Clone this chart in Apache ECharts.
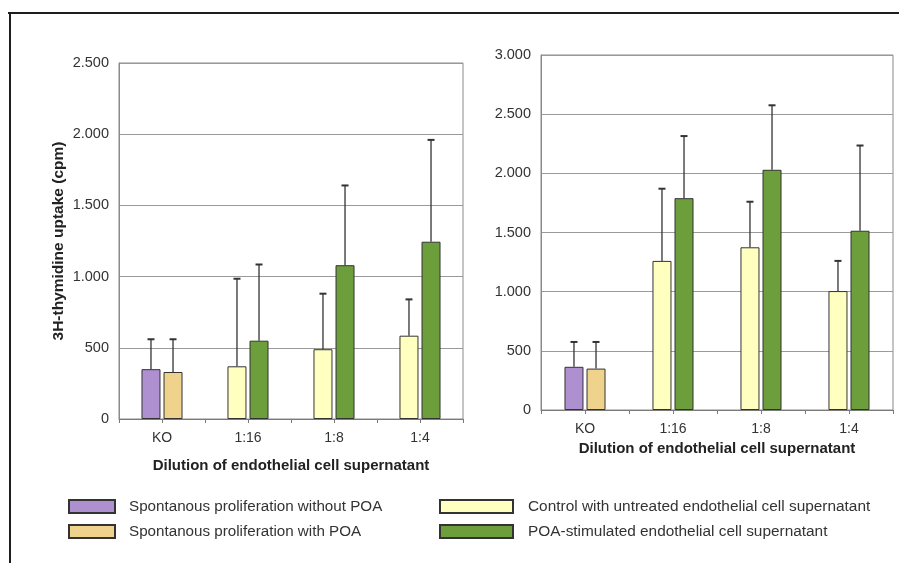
<!DOCTYPE html>
<html>
<head>
<meta charset="utf-8">
<title>3H-thymidine uptake</title>
<script src="https://cdn.jsdelivr.net/npm/echarts@6/dist/echarts.min.js"></script>
<style>
  html, body { margin: 0; padding: 0; background: #ffffff; }
  #chart { width: 899px; height: 563px; }
</style>
</head>
<body>
<div id="chart"></div>
<script>
// Categories (dilution of endothelial cell supernatant)
const categories = ['KO', '1:16', '1:8', '1:4'];

// Series names
const nameWithoutPOA = 'Spontanous proliferation without POA';
const nameWithPOA = 'Spontanous proliferation with POA';
const nameControl = 'Control with untreated endothelial cell supernatant';
const nameStimulated = 'POA-stimulated endothelial cell supernatant';

// Y tick labels (dot as thousands separator)
const leftTickLabels = ['0', '500', '1.000', '1.500', '2.000', '2.500'];
const rightTickLabels = ['0', '500', '1.000', '1.500', '2.000', '2.500', '3.000'];

// Left panel: mean cpm and SD (upper error bar)
const leftWithoutPOA = [350, null, null, null];
const leftWithoutPOAErr = [210, null, null, null];
const leftWithPOA = [330, null, null, null];
const leftWithPOAErr = [230, null, null, null];
const leftControl = [null, 370, 490, 585];
const leftControlErr = [null, 615, 390, 255];
const leftStimulated = [null, 550, 1080, 1245];
const leftStimulatedErr = [null, 535, 560, 715];

// Right panel: mean cpm and SD (upper error bar)
const rightWithoutPOA = [365, null, null, null];
const rightWithoutPOAErr = [210, null, null, null];
const rightWithPOA = [350, null, null, null];
const rightWithPOAErr = [225, null, null, null];
const rightControl = [null, 1260, 1375, 1005];
const rightControlErr = [null, 610, 385, 255];
const rightStimulated = [null, 1790, 2030, 1515];
const rightStimulatedErr = [null, 525, 545, 720];

const COLORS = {
  withoutPOA: '#ae8fcf',
  withPOA: '#efd38c',
  control: '#ffffbf',
  stimulated: '#6c9f3c'
};

const BAR_WIDTH = 19;
const BAR_GAP = '16%';
const SLOT_OFFSET = (BAR_WIDTH + BAR_WIDTH * 0.16) / 2;
const TICK_LEN = 4;
const AXIS_GREY = '#7a7a7a';
const FONT = '"Liberation Sans", Arial, sans-serif';

function barSeries(name, data, color, stack, axisIndex) {
  return {
    type: 'bar',
    name: name,
    xAxisIndex: axisIndex,
    yAxisIndex: axisIndex,
    stack: stack,
    data: data,
    barWidth: BAR_WIDTH,
    barGap: BAR_GAP,
    itemStyle: { color: color, borderColor: '#333333', borderWidth: 1 },
    emphasis: { disabled: true },
    z: 2
  };
}

// Build error bar items: [category index, mean, mean + SD, slot]
function errorItems(pairs) {
  const items = [];
  pairs.forEach(function (p) {
    p.values.forEach(function (v, i) {
      if (v != null) items.push([i, v, v + p.errors[i], p.slot]);
    });
  });
  return items;
}

function errorSeries(items, axisIndex) {
  return {
    type: 'custom',
    xAxisIndex: axisIndex,
    yAxisIndex: axisIndex,
    data: items,
    encode: { x: 0, y: [1, 2] },
    silent: true,
    z: 3,
    renderItem: function (params, api) {
      const cat = api.value(0);
      const base = api.coord([cat, api.value(1)]);
      const top = api.coord([cat, api.value(2)]);
      const x = base[0] + (api.value(3) === 0 ? -SLOT_OFFSET : SLOT_OFFSET);
      return {
        type: 'group',
        children: [
          { type: 'line', shape: { x1: x, y1: base[1], x2: x, y2: top[1] },
            style: { stroke: '#333333', lineWidth: 1.3 } },
          { type: 'line', shape: { x1: x - 3.5, y1: top[1], x2: x + 3.5, y2: top[1] },
            style: { stroke: '#333333', lineWidth: 2 } }
        ]
      };
    }
  };
}

// Extra tick marks under each category centre (the axis itself ticks the edges)
function centreTickSeries(axisIndex) {
  return {
    type: 'custom',
    xAxisIndex: axisIndex,
    yAxisIndex: axisIndex,
    data: categories.map(function (c, i) { return [i, 0]; }),
    encode: { x: 0, y: 1 },
    silent: true,
    clip: false,
    z: 1,
    renderItem: function (params, api) {
      const p = api.coord([api.value(0), 0]);
      const x = Math.round(p[0]) + 0.5;
      return {
        type: 'line',
        shape: { x1: x, y1: p[1], x2: x, y2: p[1] + TICK_LEN },
        style: { stroke: AXIS_GREY, lineWidth: 1 }
      };
    }
  };
}

function xAxis(gridIndex, nameGap) {
  return {
    type: 'category',
    gridIndex: gridIndex,
    data: categories,
    name: 'Dilution of endothelial cell supernatant',
    nameLocation: 'middle',
    nameGap: nameGap,
    nameTextStyle: { fontFamily: FONT, fontSize: 15, fontWeight: 'bold', color: '#222222' },
    axisLine: { lineStyle: { color: AXIS_GREY, width: 1 } },
    axisTick: { show: true, length: TICK_LEN, lineStyle: { color: AXIS_GREY } },
    axisLabel: { fontFamily: FONT, fontSize: 14, color: '#333333', margin: 12 },
    splitLine: { show: false }
  };
}

function yAxis(gridIndex, max, labels, extra) {
  return Object.assign({
    type: 'value',
    gridIndex: gridIndex,
    min: 0,
    max: max,
    interval: 500,
    axisLine: { show: true, lineStyle: { color: '#8a8a8a' } },
    axisTick: { show: false },
    axisLabel: {
      fontFamily: FONT, fontSize: 14.5, color: '#333333', margin: 10,
      formatter: function (v) { return labels[Math.round(v / 500)]; }
    },
    splitLine: { show: true, lineStyle: { color: '#9a9a9a', width: 1 } }
  }, extra || {});
}

const chart = echarts.init(document.getElementById('chart'), null, { renderer: 'canvas' });

chart.setOption({
  animation: false,
  backgroundColor: '#ffffff',
  textStyle: { fontFamily: FONT },
  graphic: [
    { type: 'line', shape: { x1: 8, y1: 13, x2: 899, y2: 13 },
      style: { stroke: '#1e1e1e', lineWidth: 2 }, silent: true },
    { type: 'line', shape: { x1: 10, y1: 13, x2: 10, y2: 563 },
      style: { stroke: '#1e1e1e', lineWidth: 2 }, silent: true }
  ],
  grid: [
    { left: 119, top: 63, width: 344, height: 356, show: true,
      borderColor: '#8a8a8a', borderWidth: 1, backgroundColor: 'transparent' },
    { left: 541, top: 55, width: 352, height: 355, show: true,
      borderColor: '#8a8a8a', borderWidth: 1, backgroundColor: 'transparent' }
  ],
  xAxis: [xAxis(0, 39), xAxis(1, 29)],
  yAxis: [
    yAxis(0, 2500, leftTickLabels, {
      name: '3H-thymidine uptake (cpm)',
      nameLocation: 'middle',
      nameGap: 52,
      nameTextStyle: { fontFamily: FONT, fontSize: 15.5, fontWeight: 'bold', color: '#222222' }
    }),
    yAxis(1, 3000, rightTickLabels)
  ],
  legend: [
    {
      data: [nameWithoutPOA, nameWithPOA],
      left: 68, top: 499, orient: 'vertical', padding: 0,
      itemWidth: 46, itemHeight: 13, itemGap: 10,
      icon: 'rect', selectedMode: false,
      textStyle: { fontFamily: FONT, fontSize: 15.2, color: '#333333', padding: [0, 0, 0, 9] }
    },
    {
      data: [nameControl, nameStimulated],
      left: 439, top: 499, orient: 'vertical', padding: 0,
      itemWidth: 73, itemHeight: 13, itemGap: 10,
      icon: 'rect', selectedMode: false,
      textStyle: { fontFamily: FONT, fontSize: 15.4, color: '#333333', padding: [0, 0, 0, 10] }
    }
  ],
  series: [
    // left panel: slot 0 = purple / pale yellow, slot 1 = tan / green
    barSeries(nameWithoutPOA, leftWithoutPOA, COLORS.withoutPOA, 'left-a', 0),
    barSeries(nameControl, leftControl, COLORS.control, 'left-a', 0),
    barSeries(nameWithPOA, leftWithPOA, COLORS.withPOA, 'left-b', 0),
    barSeries(nameStimulated, leftStimulated, COLORS.stimulated, 'left-b', 0),
    errorSeries(errorItems([
      { values: leftWithoutPOA, errors: leftWithoutPOAErr, slot: 0 },
      { values: leftControl, errors: leftControlErr, slot: 0 },
      { values: leftWithPOA, errors: leftWithPOAErr, slot: 1 },
      { values: leftStimulated, errors: leftStimulatedErr, slot: 1 }
    ]), 0),
    centreTickSeries(0),
    // right panel
    barSeries(nameWithoutPOA, rightWithoutPOA, COLORS.withoutPOA, 'right-a', 1),
    barSeries(nameControl, rightControl, COLORS.control, 'right-a', 1),
    barSeries(nameWithPOA, rightWithPOA, COLORS.withPOA, 'right-b', 1),
    barSeries(nameStimulated, rightStimulated, COLORS.stimulated, 'right-b', 1),
    errorSeries(errorItems([
      { values: rightWithoutPOA, errors: rightWithoutPOAErr, slot: 0 },
      { values: rightControl, errors: rightControlErr, slot: 0 },
      { values: rightWithPOA, errors: rightWithPOAErr, slot: 1 },
      { values: rightStimulated, errors: rightStimulatedErr, slot: 1 }
    ]), 1),
    centreTickSeries(1)
  ]
});
</script>
</body>
</html>
